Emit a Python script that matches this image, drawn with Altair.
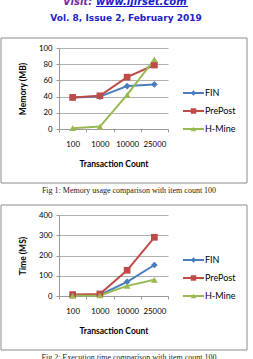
import altair as alt
import pandas as pd

categories = ["100", "1000", "10000", "25000"]
series = ["FIN", "PrePost", "H-Mine"]
colors = ["#4A7EBB", "#BE4B48", "#98B954"]
shapes = ["diamond", "square", "triangle-up"]

mem_fin = [39, 40, 53, 55]
mem_prepost = [39, 41, 64, 79]
mem_hmine = [1, 3, 42, 86]

time_fin = [3, 5, 70, 153]
time_prepost = [7, 10, 127, 290]
time_hmine = [1, 3, 50, 80]

mem_ticks = [0, 20, 40, 60, 80, 100]
time_ticks = [0, 100, 200, 300, 400]

header_visit = "Visit:"
header_link = "www.ijirset.com"
header_vol = "Vol. 8, Issue 2, February 2019"
caption1 = "Fig 1: Memory usage comparison with item count 100"
caption2 = "Fig 2: Execution time comparison with item count 100"

AX_FONT = "Lato"
GRID = "#9a9a9a"

W, H = 109, 81


def make_df(a, b, c):
    rows = []
    for s, vals in zip(series, [a, b, c]):
        for cat, v in zip(categories, vals):
            rows.append({"cat": cat, "series": s, "value": v})
    return pd.DataFrame(rows)


def panel(df, ytitle, ticks, caption, header=False):
    color = alt.Color("series:N", scale=alt.Scale(domain=series, range=colors), legend=None)
    shape = alt.Shape("series:N", scale=alt.Scale(domain=series, range=shapes), legend=None)
    x = alt.X(
        "cat:N",
        sort=categories,
        scale=alt.Scale(type="band", domain=categories, paddingInner=0, paddingOuter=0),
        bandPosition=0.5,
        axis=alt.Axis(
            title="Transaction Count",
            titleFont=AX_FONT, titleFontSize=8.5, titleFontWeight="bold", titleColor="#000",
            titlePadding=12,
            labelFont=AX_FONT, labelFontSize=7.8, labelColor="#000", labelAngle=0,
            labelPadding=8,
            tickBand="extent", tickSize=3, tickColor=GRID, domainColor=GRID,
            grid=False,
        ),
    )
    y = alt.Y(
        "value:Q",
        scale=alt.Scale(domain=[ticks[0], ticks[-1]], nice=False),
        axis=alt.Axis(
            values=ticks, title=ytitle,
            titleFont=AX_FONT, titleFontSize=8.5, titleFontWeight="bold", titleColor="#000",
            titleX=-37, titleBaseline="middle", titleAlign="center",
            labelFont=AX_FONT, labelFontSize=7.8, labelColor="#000", labelPadding=4,
            tickSize=3, tickColor=GRID, domainColor=GRID,
            grid=True, gridColor=GRID, gridWidth=0.8,
        ),
    )
    base = alt.Chart(df)
    lines = base.mark_line(strokeWidth=2).encode(x=x, y=y, color=color, detail="series:N")
    pts = base.mark_point(filled=True, size=45, opacity=1).encode(x=x, y=y, color=color, shape=shape)

    ly = alt.Y("series:N", scale=alt.Scale(type="point", domain=series, range=[45, 81], padding=0), axis=None)
    ldf = pd.DataFrame({"series": series})
    lbase = alt.Chart(ldf)
    leg_line = lbase.mark_rule(strokeWidth=2).encode(
        x=alt.value(124), x2=alt.value(145), y=ly, color=color)
    leg_pt = lbase.mark_point(filled=True, size=30, opacity=1).encode(
        x=alt.value(134.5), y=ly, color=color, shape=shape)
    leg_txt = lbase.mark_text(align="left", baseline="middle", font=AX_FONT, fontSize=9, color="#000").encode(
        x=alt.value(146), y=ly, text="series:N")

    one = pd.DataFrame({"t": [caption]})
    obase = alt.Chart(one)
    box = obase.mark_rect(fillOpacity=0, stroke="#8c8c8c", strokeWidth=1).encode(
        x=alt.value(-58), x2=alt.value(188), y=alt.value(-10), y2=alt.value(135))
    cap = obase.mark_text(align="center", baseline="middle", font="Liberation Serif", fontSize=8, color="#222").encode(
        x=alt.value(70), y=alt.value(143), text="t:N")

    main_layers = [box, lines, pts, cap]
    if header:
        hdf = pd.DataFrame({"visit": [header_visit], "link": [header_link], "vol": [header_vol]})
        hb = alt.Chart(hdf)
        visit = hb.mark_text(align="left", baseline="alphabetic", font="DejaVu Sans", fontSize=10,
                             fontWeight="bold", fontStyle="italic", color="#7030A0").encode(
            x=alt.value(4), y=alt.value(-43), text="visit:N")
        link = hb.mark_text(align="left", baseline="alphabetic", font="DejaVu Sans", fontSize=10,
                            fontWeight="bold", fontStyle="italic", color="#1a1ad0").encode(
            x=alt.value(37), y=alt.value(-43), text="link:N")
        underline = hb.mark_rule(color="#1a1ad0", strokeWidth=1).encode(
            x=alt.value(37), x2=alt.value(129), y=alt.value(-41.5))
        vol = hb.mark_text(align="center", baseline="middle", font="DejaVu Sans", fontSize=9,
                           fontWeight="bold", color="#2222c8").encode(
            x=alt.value(67), y=alt.value(-30), text="vol:N")
        main_layers += [visit, link, underline, vol]
    main = alt.layer(*main_layers)
    legend = alt.layer(leg_line, leg_pt, leg_txt)
    return alt.layer(main, legend).resolve_scale(y="independent").properties(width=W, height=H)


p1 = panel(make_df(mem_fin, mem_prepost, mem_hmine), "Memory (MB)", mem_ticks, caption1, header=True)
p2 = panel(make_df(time_fin, time_prepost, time_hmine), "Time (MS)", time_ticks, caption2)

chart = alt.vconcat(p1, p2, spacing=86, bounds="flush").properties(
    padding={"left": 59, "top": 48, "right": 85, "bottom": 311},
    autosize=alt.AutoSizeParams(type="none"),
    background="white",
).configure_view(strokeWidth=0)

chart.save("out.html", embed_options={"renderer": "svg", "actions": False})
